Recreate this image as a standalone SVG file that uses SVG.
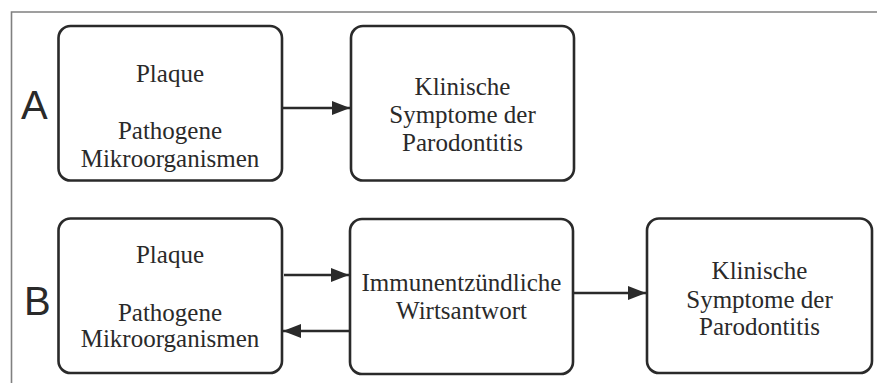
<svg xmlns="http://www.w3.org/2000/svg" width="877" height="383" viewBox="0 0 877 383">
<style>
.box{fill:#fff;stroke:#2a2a2a;stroke-width:2.6}
.t{font-family:"Liberation Serif","Times New Roman",serif;font-size:25px;fill:#2a2a2a;text-anchor:middle}
.lbl{font-family:"Liberation Sans",Arial,sans-serif;font-size:40px;fill:#2a2a2a}
.c{stroke:#2a2a2a;stroke-width:2.6;fill:none;marker-end:url(#ah)}
</style>
<defs>
<marker id="ah" markerUnits="userSpaceOnUse" markerWidth="20" markerHeight="16" refX="18" refY="7" orient="auto">
<path d="M0,0 L18,7 L0,14 Z" fill="#2a2a2a"/>
</marker>
</defs>
<rect width="877" height="383" fill="#fff"/>
<g id="frame">
<path d="M11.5,383 V12 H877" fill="none" stroke="#808080" stroke-width="1.6"/>
</g>
<g id="labelA"><text class="lbl" x="21" y="119">A</text></g>
<g id="labelB"><text class="lbl" x="24" y="315" font-size="38">B</text></g>
<g id="A1">
<rect class="box" x="58.5" y="26" width="223.5" height="154.5" rx="12"/>
<text class="t" x="170" y="82">Plaque</text>
<text class="t" x="170" y="139">Pathogene</text>
<text class="t" x="170" y="167">Mikroorganismen</text>
</g>
<g id="A2">
<rect class="box" x="351" y="26" width="223" height="154.5" rx="12"/>
<text class="t" x="462.5" y="95">Klinische</text>
<text class="t" x="462.5" y="123">Symptome der</text>
<text class="t" x="462.5" y="151">Parodontitis</text>
</g>
<g id="B1">
<rect class="box" x="58.5" y="218.5" width="223.5" height="154.5" rx="12"/>
<text class="t" x="170" y="263">Plaque</text>
<text class="t" x="170" y="321">Pathogene</text>
<text class="t" x="170" y="347">Mikroorganismen</text>
</g>
<g id="B2">
<rect class="box" x="350" y="219" width="223" height="155" rx="12"/>
<text class="t" x="461.5" y="291">Immunentzündliche</text>
<text class="t" x="461.5" y="319">Wirtsantwort</text>
</g>
<g id="B3">
<rect class="box" x="647" y="218.5" width="225" height="154.5" rx="12"/>
<text class="t" x="759.5" y="279">Klinische</text>
<text class="t" x="759.5" y="308">Symptome der</text>
<text class="t" x="759.5" y="335">Parodontitis</text>
</g>
<g id="connectors">
<line class="c" x1="282" y1="108" x2="350" y2="108"/>
<line class="c" x1="284" y1="275" x2="349" y2="275"/>
<line class="c" x1="350" y1="331" x2="283" y2="331"/>
<line class="c" x1="573" y1="293" x2="646" y2="293"/>
</g>
</svg>
